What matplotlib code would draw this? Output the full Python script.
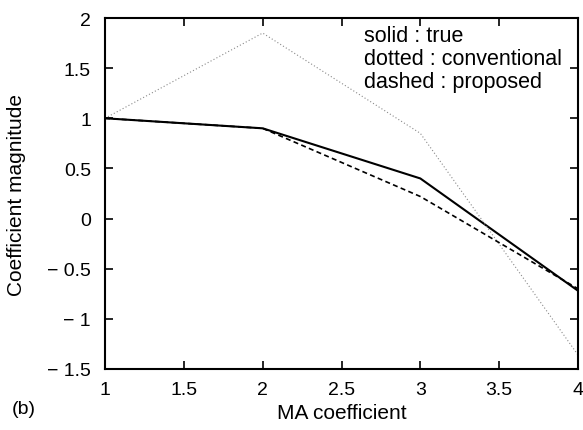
import matplotlib
matplotlib.use("Agg")
import matplotlib.pyplot as plt
from matplotlib.ticker import FixedLocator, FuncFormatter

x = [1, 2, 3, 4]
true_vals = [1.0, 0.9, 0.4, -0.72]
conventional = [1.0, 1.85, 0.85, -1.36]
proposed = [1.0, 0.9, 0.22, -0.70]
xticks = [1, 1.5, 2, 2.5, 3, 3.5, 4]
yticks = [-1.5, -1, -0.5, 0, 0.5, 1, 1.5, 2]

plt.rcParams['font.family'] = ['Liberation Sans', 'DejaVu Sans']

fig = plt.figure(figsize=(5.83, 4.31), dpi=100)
ax = fig.add_axes([105/583, 1-370/431, (578-105)/583, (370-19)/431])

ax.plot(x, true_vals, color='black', lw=1.5, ls='-')
ax.plot(x, conventional, color='#8a8a8a', lw=0.8, ls=(0, (1, 2)))
ax.plot(x, proposed, color='black', lw=1.2, ls=(0, (3, 2)))

ax.set_xlim(1, 4)
ax.set_ylim(-1.5, 2)
ax.xaxis.set_major_locator(FixedLocator(xticks))
ax.yaxis.set_major_locator(FixedLocator(yticks))

def fmt(v, pos):
    s = f"{abs(v):g}"
    return ("\u2212 " + s) if v < 0 else s

ax.xaxis.set_major_formatter(FuncFormatter(fmt))
ax.yaxis.set_major_formatter(FuncFormatter(fmt))
ax.tick_params(axis='both', direction='in', top=True, right=True, length=6,
               width=1.2, labelsize=14)
ax.tick_params(axis='y', pad=10)
ax.tick_params(axis='x', pad=9)
for s in ax.spines.values():
    s.set_linewidth(1.5)

ax.set_xlabel('MA coefficient', fontsize=15, labelpad=3)
ax.set_ylabel('Coefficient magnitude', fontsize=15, labelpad=15)

ax.text(2.64, 1.93, 'solid : true\ndotted : conventional\ndashed : proposed',
        fontsize=15.5, va='top', ha='left', linespacing=1.12)
fig.text(12/583, 1-410/431, '(b)', fontsize=14, va='center', ha='left')

fig.savefig('out.png', dpi=100)
